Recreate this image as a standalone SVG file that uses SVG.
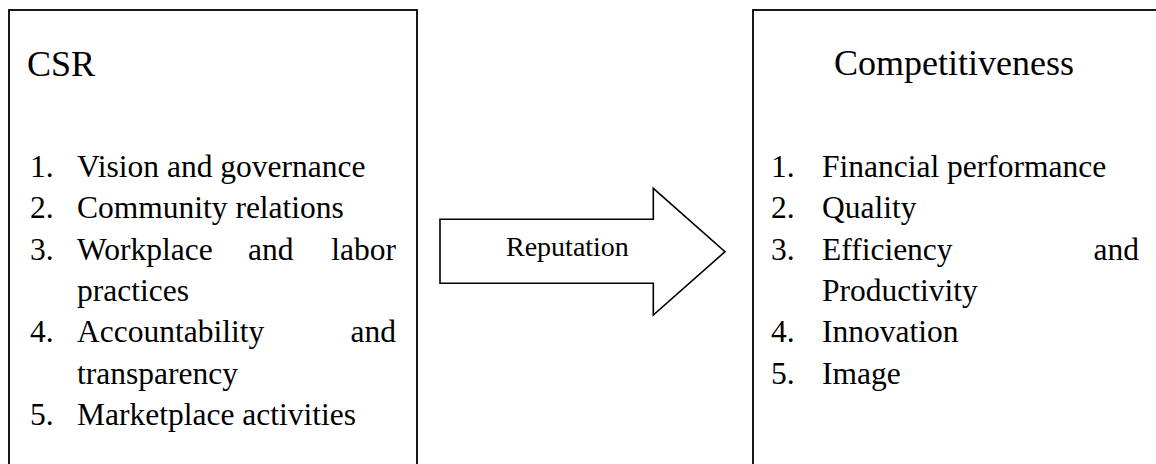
<svg xmlns="http://www.w3.org/2000/svg" width="1156" height="464" viewBox="0 0 1156 464">
<style>
.box{fill:#fff;stroke:#000;stroke-width:1.8}
.title{font-family:"Liberation Serif","Times New Roman",serif;font-size:36px;fill:#000}
.item{font-family:"Liberation Serif","Times New Roman",serif;font-size:31.5px;fill:#000}
.lbl{font-family:"Liberation Serif","Times New Roman",serif;font-size:28px;fill:#000}
.arrow{fill:#fff;stroke:#000;stroke-width:1.6;stroke-linejoin:miter}
</style>
<rect width="1156" height="464" fill="#fff"/>
<g id="csr">
<rect class="box" x="9" y="10" width="408" height="480"/>
<text class="title" x="27" y="76">CSR</text>
<text class="item" x="30" y="177">1.</text><text class="item" x="77" y="177">Vision and governance</text>
<text class="item" x="30" y="218">2.</text><text class="item" x="77" y="218">Community relations</text>
<text class="item" x="30" y="260">3.</text><text class="item" x="77" y="260">Workplace</text><text class="item" x="248" y="260">and</text><text class="item" x="396" y="260" text-anchor="end">labor</text>
<text class="item" x="77" y="301">practices</text>
<text class="item" x="30" y="342">4.</text><text class="item" x="77" y="342">Accountability</text><text class="item" x="396" y="342" text-anchor="end">and</text>
<text class="item" x="77" y="384">transparency</text>
<text class="item" x="30" y="425">5.</text><text class="item" x="77" y="425">Marketplace activities</text>
</g>
<g id="competitiveness">
<rect class="box" x="753" y="10" width="420" height="480"/>
<text class="title" x="834" y="75">Competitiveness</text>
<text class="item" x="771" y="177">1.</text><text class="item" x="822" y="177">Financial performance</text>
<text class="item" x="771" y="218">2.</text><text class="item" x="822" y="218">Quality</text>
<text class="item" x="771" y="260">3.</text><text class="item" x="822" y="260">Efficiency</text><text class="item" x="1139" y="260" text-anchor="end">and</text>
<text class="item" x="822" y="301">Productivity</text>
<text class="item" x="771" y="342">4.</text><text class="item" x="822" y="342">Innovation</text>
<text class="item" x="771" y="384">5.</text><text class="item" x="822" y="384">Image</text>
</g>
<g id="connectors">
<g id="reputation-arrow">
<polygon class="arrow" points="440,219.3 653.3,219.3 653.3,188.3 725,251.7 653.3,315 653.3,283.3 440,283.3"/>
<text class="lbl" x="506" y="256">Reputation</text>
</g>
</g>
</svg>
